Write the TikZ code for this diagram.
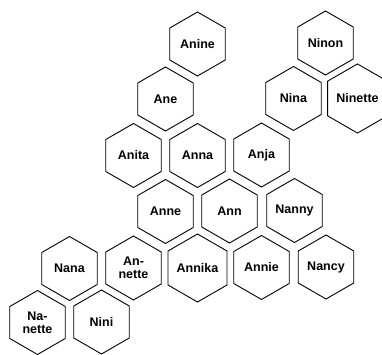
\documentclass[tikz,border=0pt]{standalone}
\usepackage{fontspec}
\setmainfont{Liberation Sans}
\usetikzlibrary{shapes.geometric}
\tikzset{
  hexcell/.style={regular polygon, regular polygon sides=6, shape border rotate=30,
    draw=black, line width=0.9pt, minimum size=64pt, inner sep=0pt, outer sep=0pt,
    align=center, font=\bfseries\fontsize{12.5}{13}\selectfont}
}
\begin{document}
\begin{tikzpicture}[x=1pt,y=-1pt]
\useasboundingbox (0,0) rectangle (382,355);
\clip (0,0) rectangle (382,355);
\node[hexcell] (anine) at (197.5,44) {Anine};
\node[hexcell] (ninon) at (325.5,43) {Ninon};
\node[hexcell] (ane) at (165.5,99) {Ane};
\node[hexcell] (nina) at (293.5,98.5) {Nina};
\node[hexcell] (ninette) at (357.5,98.5) {Ninette};
\node[hexcell] (anita) at (133.5,155.5) {Anita};
\node[hexcell] (anna) at (197.5,155.5) {Anna};
\node[hexcell] (anja) at (261.5,155) {Anja};
\node[hexcell] (anne) at (165.5,211.5) {Anne};
\node[hexcell] (ann) at (229.5,211) {Ann};
\node[hexcell] (nanny) at (294.5,210.5) {Nanny};
\node[hexcell] (nana) at (69.5,268.5) {Nana};
\node[hexcell] (annette) at (133.5,268) {An-\\nette};
\node[hexcell] (annika) at (197.5,268) {Annika};
\node[hexcell] (annie) at (261.5,267.5) {Annie};
\node[hexcell] (nancy) at (326,267) {Nancy};
\node[hexcell] (nanette) at (37.5,322.5) {Na-\\nette};
\node[hexcell] (nini) at (101.5,322) {Nini};
\end{tikzpicture}
\end{document}
